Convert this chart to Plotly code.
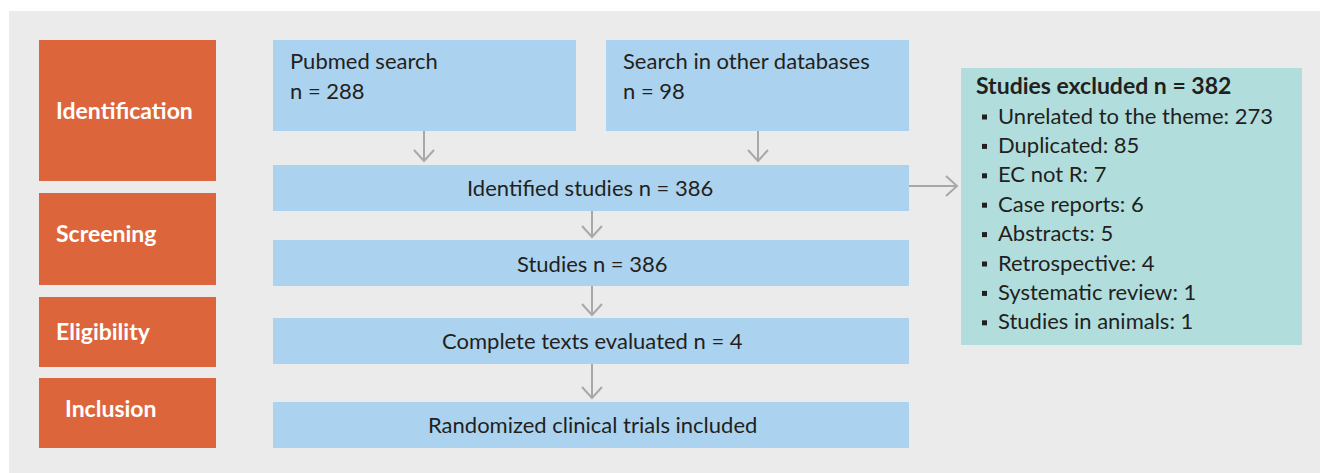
import plotly.graph_objects as go

# ---- chart content (data) ----
phase_labels = ["Identification", "Screening", "Eligibility", "Inclusion"]
source_names = ["Pubmed search", "Search in other databases"]
source_counts = [288, 98]
flow_labels = ["Identified studies", "Studies", "Complete texts evaluated",
               "Randomized clinical trials included"]
flow_counts = [386, 386, 4, None]
excluded_title = "Studies excluded"
excluded_total = 382
excluded_reasons = ["Unrelated to the theme", "Duplicated", "EC not R", "Case reports",
                    "Abstracts", "Retrospective", "Systematic review", "Studies in animals"]
excluded_counts = [273, 85, 7, 6, 5, 4, 1, 1]

# ---- layout geometry (pixels, y downward) ----
W, H = 1320, 473
panel = (9, W, 11, H)
phase_boxes = [(39, 216, 40, 181), (39, 216, 193, 285), (39, 216, 297, 367), (39, 216, 378, 448)]
phase_text_pos = [(54, 110), (54, 233), (54, 331), (63, 408)]
source_boxes = [(273, 576, 40, 131), (606, 909, 40, 131)]
source_text_x = [288, 621]
source_text_y = (60, 90)
flow_boxes = [(273, 909, 165, 211), (273, 909, 240, 286), (273, 909, 318, 364), (273, 909, 402, 448)]
flow_text_pos = [(590, 187), (592, 263), (592, 340), (592, 424)]
excl_box = (961, 1302, 68, 345)
excl_title_pos = (974, 85)
excl_bullet_x = 984.5
excl_text_x = 996
excl_first_y = 115
excl_step = 29.4
v_arrows = [(424, 131, 161), (758, 131, 161), (592, 211, 237), (592, 286, 315), (592, 364, 398)]
h_arrow = (909, 957, 186)

ORANGE = "#DD653C"
BLUE = "#ABD3EF"
TEAL = "#B1DEDD"
BG = "#EAEBEA"
ARROW = "#A8A8A8"
TXT = "#231F20"
FONT = "Lato"
FS = 22
FS_BOLD = 23

fig = go.Figure()
shapes = []
ann = []


def rect(box, color):
    x0, x1, y0, y1 = box
    shapes.append(dict(type="rect", xref="x", yref="y", x0=x0, x1=x1, y0=y0, y1=y1,
                       fillcolor=color, line=dict(width=0), layer="below"))


def text(x, y, s, anchor="left", bold=False, color=TXT, size=FS):
    ann.append(dict(x=x, y=y, xref="x", yref="y", text=(f"<b>{s}</b>" if bold else s),
                    showarrow=False, xanchor=anchor, yanchor="middle",
                    font=dict(family=FONT, size=size, color=color)))


rect(panel, BG)
for box, (tx, ty), lab in zip(phase_boxes, phase_text_pos, phase_labels):
    rect(box, ORANGE)
    text(tx, ty, lab, bold=True, color="white", size=FS_BOLD)

for box, tx, name, n in zip(source_boxes, source_text_x, source_names, source_counts):
    rect(box, BLUE)
    text(tx, source_text_y[0], name)
    text(tx, source_text_y[1], f"n = {n}")

for box, (tx, ty), lab, n in zip(flow_boxes, flow_text_pos, flow_labels, flow_counts):
    rect(box, BLUE)
    text(tx, ty, lab if n is None else f"{lab} n = {n}", anchor="center")

rect(excl_box, TEAL)
text(excl_title_pos[0], excl_title_pos[1], f"{excluded_title} n = {excluded_total}",
     bold=True, size=FS_BOLD)
for i, (r, c) in enumerate(zip(excluded_reasons, excluded_counts)):
    y = excl_first_y + i * excl_step
    shapes.append(dict(type="rect", xref="x", yref="y", x0=excl_bullet_x - 2.5, x1=excl_bullet_x + 2.5,
                       y0=y - 0.5, y1=y + 4.5, fillcolor=TXT, line=dict(width=0)))
    text(excl_text_x, y, f"{r}: {c}")

for x, y0, y1 in v_arrows:
    shapes.append(dict(type="line", xref="x", yref="y", x0=x, x1=x, y0=y0, y1=y1,
                       line=dict(color=ARROW, width=2)))
    shapes.append(dict(type="path", xref="x", yref="y",
                       path=f"M {x-10} {y1-11} L {x} {y1} L {x+10} {y1-11}",
                       line=dict(color=ARROW, width=2)))
hx0, hx1, hy = h_arrow
shapes.append(dict(type="line", xref="x", yref="y", x0=hx0, x1=hx1, y0=hy, y1=hy,
                   line=dict(color=ARROW, width=2)))
shapes.append(dict(type="path", xref="x", yref="y",
                   path=f"M {hx1-11} {hy-10} L {hx1} {hy} L {hx1-11} {hy+10}",
                   line=dict(color=ARROW, width=2)))

fig.update_layout(
    width=W, height=H, margin=dict(l=0, r=0, t=0, b=0),
    paper_bgcolor="white", plot_bgcolor="white",
    xaxis=dict(range=[0, W], visible=False, fixedrange=True),
    yaxis=dict(range=[H, 0], visible=False, fixedrange=True),
    shapes=shapes, annotations=ann, showlegend=False,
)
fig.write_html("out.html", config={"displayModeBar": False},
               post_script="document.body.style.margin='0';")
